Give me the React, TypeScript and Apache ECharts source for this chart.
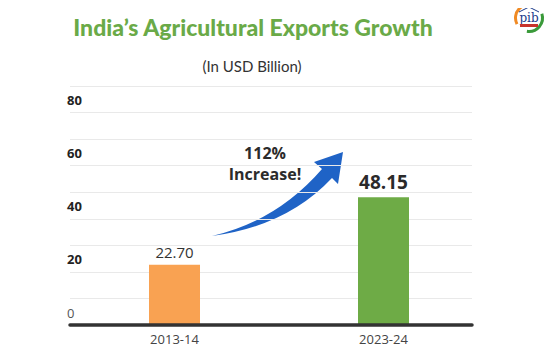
import React, { useEffect, useRef } from "react";
import * as echarts from "echarts";

const categories = ["2013-14", "2023-24"];
const exportValues = [22.7, 48.15];
const barColors = ["#F9A252", "#6EAB46"];
const yMax = 90;
const yStep = 10;
const titleText = "India\u2019s Agricultural Exports Growth";
const subtitleText = "(In USD Billion)";
const annotationLines = ["112%", "Increase!"];

const ARROW_D =
  "M212,236 Q277,221 322,169 L314,162 L343,152 L338,184 L332,178 Q287,226 212,236 Z";

export default function App() {
  const ref = useRef<HTMLDivElement>(null);
  useEffect(() => {
    if (!ref.current) return;
    echarts.graphic.registerShape("growthArrow", echarts.graphic.extendPath(ARROW_D, {}));
    const chart = echarts.init(ref.current, null, { renderer: "svg" });
    const yLabel = (v: number) => {
      if (v === 0) return "{z|0}";
      if (v % 20 === 0 && v < yMax) return "{b|" + v + "}";
      return "";
    };
    chart.setOption({
      animation: false,
      backgroundColor: "#ffffff",
      grid: [
        { left: 70, right: 69, top: 86, bottom: 30 },
        { left: 70, right: 85, top: 86, bottom: 30 },
      ],
      xAxis: [
        {
          type: "category",
          gridIndex: 0,
          data: categories,
          axisLine: { show: false },
          axisTick: { show: false },
          axisLabel: {
            margin: 7,
            fontFamily: "Open Sans",
            fontSize: 13,
            color: "#444",
          },
        },
        {
          type: "category",
          gridIndex: 1,
          data: categories,
          z: 5,
          axisLine: { show: true, lineStyle: { color: "#333", width: 3.5 } },
          axisTick: { show: false },
          axisLabel: { show: false },
        },
      ],
      yAxis: [
        { type: "value", gridIndex: 0, min: 0, max: yMax, interval: yStep, show: false },
        {
          type: "value",
          gridIndex: 1,
          min: 0,
          max: yMax,
          interval: yStep,
          axisLine: { show: false },
          axisTick: { show: false },
          splitLine: { show: true, lineStyle: { color: "#E9E9E9", width: 1 } },
          axisLabel: {
            formatter: yLabel,
            align: "left",
            margin: 3,
            verticalAlign: "bottom",
            padding: [0, 0, 6, 0],
            rich: {
              b: { fontFamily: "Open Sans", fontWeight: "bold", fontSize: 13, color: "#222" },
              z: { fontFamily: "Open Sans", fontWeight: "normal", fontSize: 13, color: "#555" },
            },
          },
        },
      ],
      series: [
        {
          type: "bar",
          xAxisIndex: 0,
          yAxisIndex: 0,
          barWidth: 51,
          data: exportValues.map((v, i) => ({
            value: v,
            itemStyle: { color: barColors[i] },
            label:
              i === 0
                ? {
                    show: true,
                    position: "top",
                    distance: 5,
                    formatter: v.toFixed(2),
                    fontFamily: "Open Sans",
                    fontSize: 15,
                    color: "#333",
                  }
                : {
                    show: true,
                    position: "top",
                    distance: 6,
                    formatter: v.toFixed(2),
                    fontFamily: "Open Sans",
                    fontWeight: "bold",
                    fontSize: 19,
                    color: "#2a2a2a",
                  },
          })),
        },
      ],
      graphic: [
        {
          type: "text",
          x: 253,
          y: 27,
          style: {
            text: titleText,
            fontFamily: "Lato",
            fontWeight: 900,
            fontSize: 23,
            fill: "#6AAA48",
            align: "center",
            verticalAlign: "middle",
          },
        },
        {
          type: "text",
          x: 252,
          y: 66,
          style: {
            text: subtitleText,
            fontFamily: "Lato",
            fontSize: 15,
            fill: "#333",
            align: "center",
            verticalAlign: "middle",
          },
        },
        {
          type: "text",
          x: 265,
          y: 163,
          style: {
            text: annotationLines.join("\n"),
            fontFamily: "Open Sans",
            fontWeight: "bold",
            fontSize: 16,
            lineHeight: 21,
            fill: "#2b2b2b",
            align: "center",
            verticalAlign: "middle",
          },
        },
        {
          type: "growthArrow",
          x: 0,
          y: 0,
          style: { fill: "#1F63C6" },
        },
        {
          type: "group",
          children: [
            { type: "circle", shape: { cx: 529, cy: 18, r: 15 }, style: { fill: "#fff" } },
            {
              type: "arc",
              shape: { cx: 529, cy: 18, r: 13.5, startAngle: Math.PI * 0.85, endAngle: Math.PI * 1.65, clockwise: true },
              style: { stroke: "#F08A24", lineWidth: 3, fill: "none" },
            },
            {
              type: "arc",
              shape: { cx: 529, cy: 18, r: 13.5, startAngle: -Math.PI * 0.1, endAngle: Math.PI * 0.55, clockwise: true },
              style: { stroke: "#3A9A3A", lineWidth: 3, fill: "none" },
            },
            {
              type: "polyline",
              shape: { points: [[519, 12], [529, 7], [539, 12]] },
              style: { stroke: "#1A3A8A", lineWidth: 1, fill: "none" },
            },
            {
              type: "text",
              x: 529,
              y: 18,
              style: {
                text: "pib",
                fontFamily: "DejaVu Serif",
                fontSize: 12,
                fill: "#1A3A8A",
                align: "center",
                verticalAlign: "middle",
              },
            },
            { type: "rect", shape: { x: 520, y: 24, width: 18, height: 3 }, style: { fill: "#C8332B" } },
          ],
        },
      ],
    });
    return () => chart.dispose();
  }, []);
  return <div ref={ref} style={{ width: 557, height: 355, margin: -8 }} />;
}
